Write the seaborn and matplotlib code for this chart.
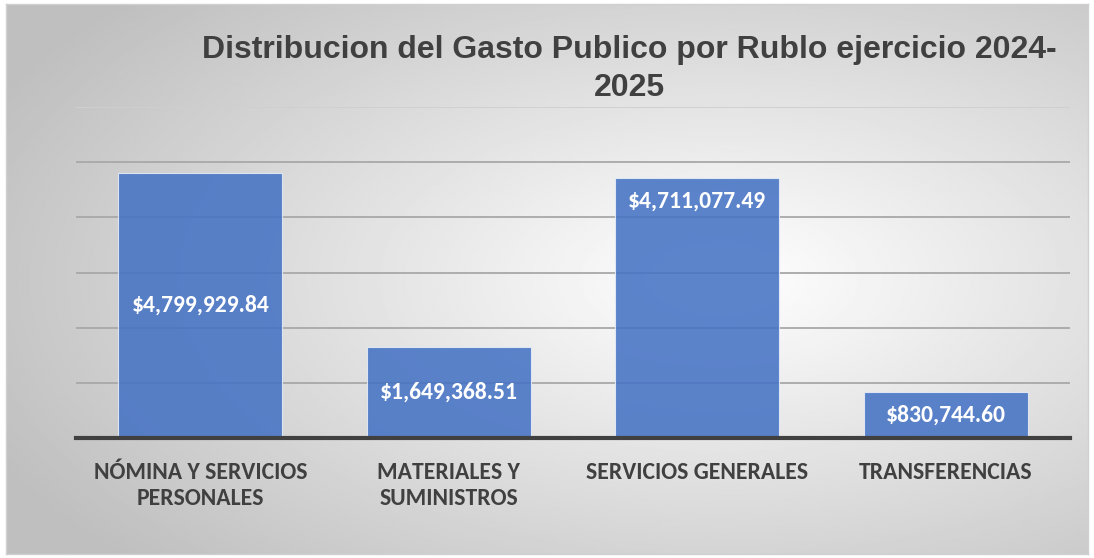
import numpy as np
import matplotlib
matplotlib.use("Agg")
import matplotlib.pyplot as plt
from matplotlib import font_manager
import pandas as pd
import seaborn as sns

CATEGORIES = ["NÓMINA Y SERVICIOS\nPERSONALES", "MATERIALES Y\nSUMINISTROS",
              "SERVICIOS GENERALES", "TRANSFERENCIAS"]
VALUES = [4799929.84, 1649368.51, 4711077.49, 830744.60]
LABEL_POS = ["center", "center", "inside_end", "center"]
TITLE = "Distribucion del Gasto Publico por Rublo ejercicio 2024-\n2025"

W, H = 1094, 558
BAR_COLOR = "#4472C4"
TEXT_COLOR = "#404040"


def bold_font(candidates):
    # first candidate that really has a bold face installed
    for name in candidates:
        for f in font_manager.fontManager.ttflist:
            w = f.weight if isinstance(f.weight, int) else 400
            if f.name == name and w == 700 and f.style == "normal":
                return font_manager.FontProperties(fname=f.fname)
    return font_manager.FontProperties(family="DejaVu Sans", weight="bold")


def draw_background(fig):
    # radial (elliptical) grey gradient, white near centre-right
    bg = fig.add_axes([6 / W, 4 / H, 1082 / W, 550 / H], zorder=0)
    yy, xx = np.mgrid[0:1:300j, 0:1:600j]
    r = np.sqrt(((xx - 0.66) / 0.5) ** 2 + ((yy - 0.5) / 0.5) ** 2)
    shade = 1.0 - 0.21 * np.clip(r / 1.25, 0, 1.2)
    bg.imshow(shade, cmap="gray", vmin=0, vmax=1, aspect="auto",
              extent=[0, 1, 0, 1], origin="upper", interpolation="bilinear")
    bg.set_xlim(0, 1)
    bg.set_ylim(0, 1)
    bg.set_xticks([])
    bg.set_yticks([])
    for spine in bg.spines.values():
        spine.set_color("#d0d0d0")
        spine.set_linewidth(1.0)


def main():
    title_fp = bold_font(["Liberation Sans", "Arimo", "Roboto"])
    title_fp.set_size(23)
    label_fp = bold_font(["Carlito", "Lato", "Open Sans"])
    label_fp.set_size(17)

    fig = plt.figure(figsize=(W / 100, H / 100), dpi=100)
    fig.patch.set_facecolor("white")
    draw_background(fig)

    df = pd.DataFrame({"categoria": CATEGORIES, "monto": VALUES})
    ax = fig.add_axes([76 / W, (H - 438) / H, 994 / W, 331 / H], zorder=1)
    ax.patch.set_alpha(0)
    sns.barplot(data=df, x="categoria", y="monto", color=BAR_COLOR, alpha=0.87,
                width=0.66, saturation=1, edgecolor="#e8eef8", linewidth=0.8,
                ax=ax, zorder=2)

    ax.set_ylim(0, 6_000_000)
    ax.set_xlim(-0.5, len(CATEGORIES) - 0.5)
    ax.set_yticks(np.arange(1_000_000, 6_000_001, 1_000_000))
    ax.yaxis.grid(True, color="#a8a8a8", linewidth=1.3, zorder=1)
    ax.set_axisbelow(True)
    ax.tick_params(axis="y", left=False, labelleft=False)
    ax.tick_params(axis="x", bottom=False, pad=14)
    ax.set_xlabel("")
    ax.set_ylabel("")
    # top gridline is fainter in the original
    ax.get_ygridlines()[-1].set_color("#cfcfcf")
    for side in ["top", "right", "left"]:
        ax.spines[side].set_visible(False)
    ax.spines["bottom"].set_color(TEXT_COLOR)
    ax.spines["bottom"].set_linewidth(3)
    ax.spines["bottom"].set_zorder(3)

    for lbl in ax.get_xticklabels():
        lbl.set_fontproperties(label_fp)
        lbl.set_color(TEXT_COLOR)
        lbl.set_verticalalignment("top")
        lbl.set_linespacing(1.3)

    for i, (val, pos) in enumerate(zip(VALUES, LABEL_POS)):
        y = val / 2 if pos == "center" else val - 420_000
        ax.text(i, y, f"${val:,.2f}", ha="center", va="center", color="white",
                fontproperties=label_fp, zorder=4)

    fig.text(629 / W, 1 - 69 / H, TITLE, ha="center", va="center",
             fontproperties=title_fp, color=TEXT_COLOR, linespacing=1.38)

    fig.savefig("out.png", dpi=100)
    plt.close(fig)


if __name__ == "__main__":
    main()
